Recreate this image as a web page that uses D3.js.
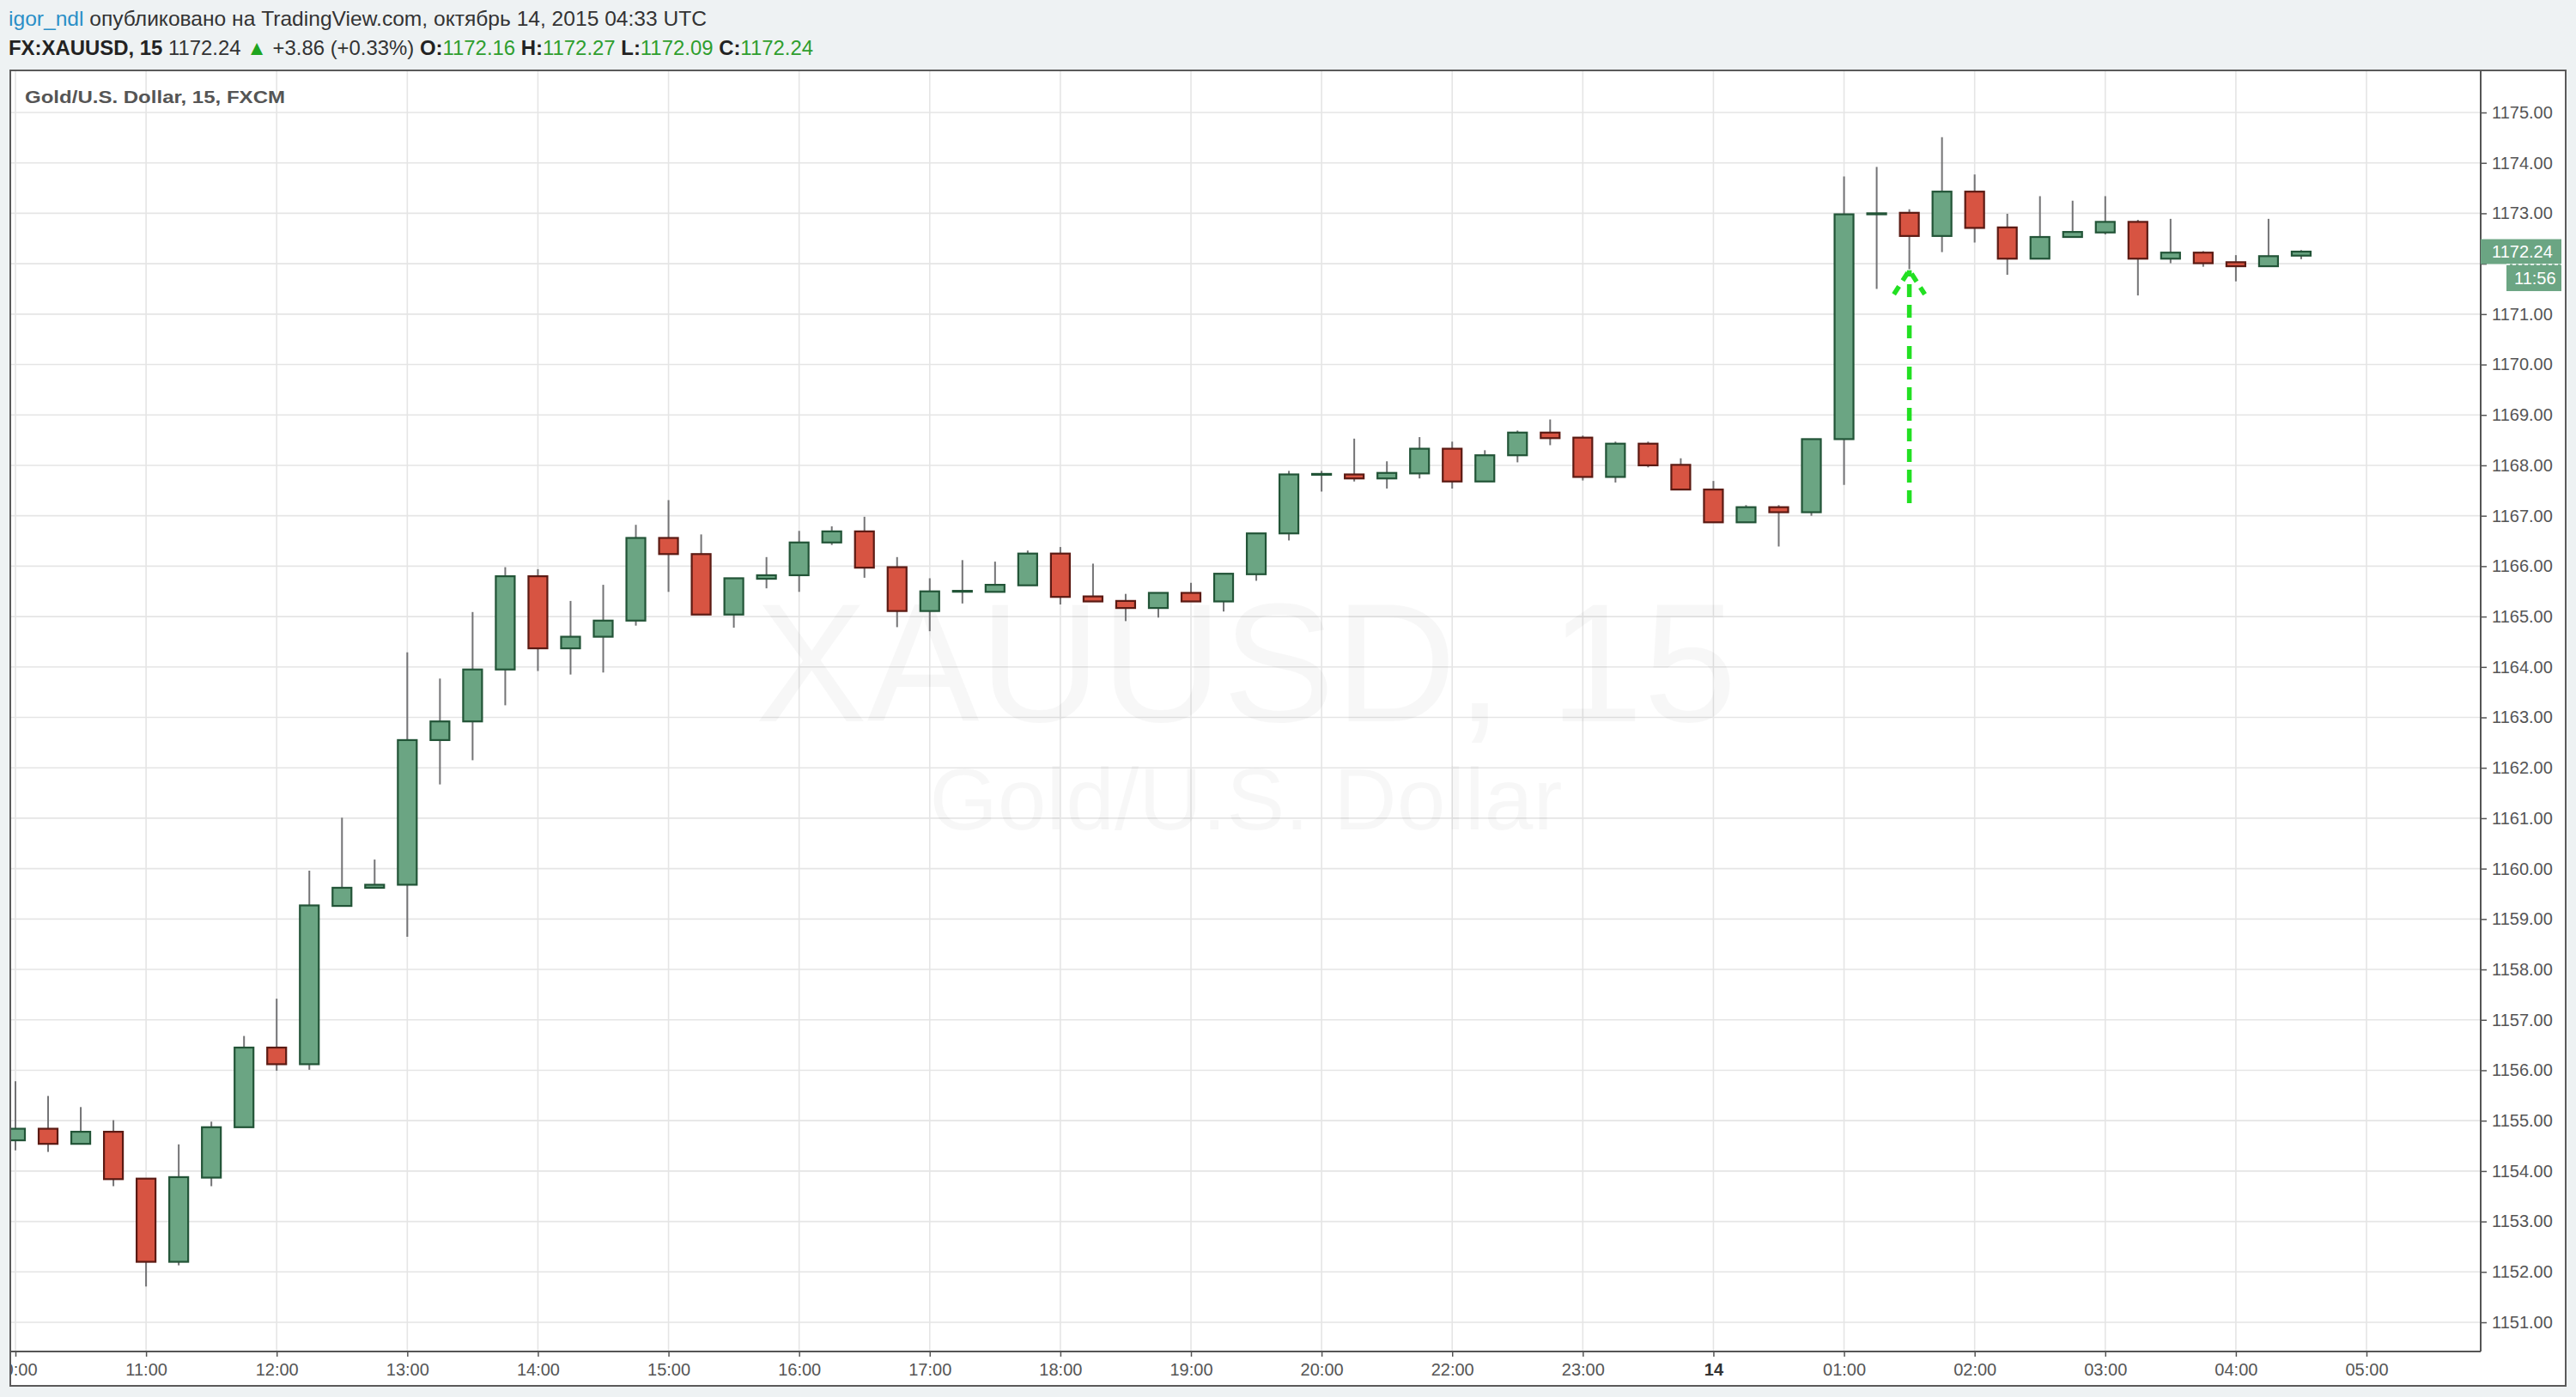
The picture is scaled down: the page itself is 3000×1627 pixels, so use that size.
<!DOCTYPE html>
<html><head><meta charset="utf-8">
<script src="https://cdn.jsdelivr.net/npm/d3@7/dist/d3.min.js"></script>
<style>
html,body{margin:0;padding:0;background:#eef2f3;}
svg{display:block;}
text{font-family:"Liberation Sans",Arial,sans-serif;}
</style></head><body>
<svg id="chart" width="3000" height="1627"></svg>
<script>
// ---------- DATA ----------
const timeSlots = [
 "10:00","10:15","10:30","10:45","11:00","11:15","11:30","11:45",
 "12:00","12:15","12:30","12:45","13:00","13:15","13:30","13:45",
 "14:00","14:15","14:30","14:45","15:00","15:15","15:30","15:45",
 "16:00","16:15","16:30","16:45","17:00","17:15","17:30","17:45",
 "18:00","18:15","18:30","18:45","19:00","19:15","19:30","19:45",
 "20:00","20:15","20:30","20:45","22:00","22:15","22:30","22:45",
 "23:00","23:15","23:30","23:45","00:00","00:15","00:30","00:45",
 "01:00","01:15","01:30","01:45","02:00","02:15","02:30","02:45",
 "03:00","03:15","03:30","03:45","04:00","04:15","04:30","04:45","05:00"];
const openV = [
 1154.61,1154.84,1154.54,1154.78,1153.85,1152.20,1153.87,1154.87,
 1156.45,1156.12,1159.26,1159.62,1159.68,1162.55,1162.92,1163.95,
 1165.80,1164.37,1164.60,1164.92,1166.56,1166.24,1165.04,1165.75,
 1165.82,1166.47,1166.69,1165.98,1165.11,1165.50,1165.49,1165.62,
 1166.25,1165.40,1165.31,1165.17,1165.47,1165.30,1165.84,1166.65,
 1167.82,1167.82,1167.74,1167.84,1168.33,1167.68,1168.20,1168.65,
 1168.55,1167.77,1168.43,1168.01,1167.52,1166.87,1167.17,1167.07,
 1168.52,1172.98,1173.01,1172.55,1173.43,1172.72,1172.10,1172.53,
 1172.62,1172.83,1172.10,1172.22,1172.03,1171.95,1172.16];
const highV = [
 1155.78,1155.49,1155.27,1155.01,1153.85,1154.53,1154.98,1156.68,
 1157.42,1159.96,1161.01,1160.18,1164.29,1163.77,1165.09,1165.98,
 1165.94,1165.31,1165.63,1166.82,1167.31,1166.63,1165.76,1166.18,
 1166.70,1166.79,1166.98,1166.18,1165.76,1166.12,1166.09,1166.31,
 1166.38,1166.05,1165.45,1165.47,1165.67,1165.85,1166.65,1167.89,
 1167.89,1168.53,1168.08,1168.56,1168.47,1168.30,1168.69,1168.91,
 1168.59,1168.47,1168.47,1168.14,1167.69,1167.21,1167.21,1168.52,
 1173.73,1173.92,1173.08,1174.51,1173.77,1172.99,1173.34,1173.25,
 1173.34,1172.87,1172.89,1172.25,1172.17,1172.89,1172.27];
const lowV = [
 1154.41,1154.38,1154.54,1153.70,1151.71,1152.13,1153.70,1154.87,
 1155.99,1156.01,1159.26,1159.62,1158.65,1161.67,1162.15,1163.24,
 1163.92,1163.85,1163.89,1164.82,1165.49,1165.04,1164.78,1165.56,
 1165.49,1166.42,1165.77,1164.79,1164.71,1165.26,1165.49,1165.62,
 1165.24,1165.30,1164.91,1164.98,1165.30,1165.10,1165.71,1166.51,
 1167.48,1167.68,1167.54,1167.74,1167.54,1167.68,1168.06,1168.40,
 1167.70,1167.66,1167.96,1167.52,1166.87,1166.87,1166.39,1167.00,
 1167.61,1171.50,1171.89,1172.23,1172.42,1171.78,1172.10,1172.53,
 1172.58,1171.37,1172.01,1171.94,1171.65,1171.95,1172.09];
const closeV = [
 1154.84,1154.54,1154.78,1153.84,1152.20,1153.88,1154.87,1156.45,
 1156.12,1159.27,1159.62,1159.68,1162.55,1162.92,1163.95,1165.80,
 1164.37,1164.60,1164.92,1166.56,1166.24,1165.04,1165.76,1165.82,
 1166.47,1166.69,1165.97,1165.11,1165.50,1165.51,1165.63,1166.25,
 1165.39,1165.30,1165.17,1165.47,1165.30,1165.85,1166.65,1167.82,
 1167.83,1167.74,1167.85,1168.33,1167.68,1168.20,1168.65,1168.54,
 1167.77,1168.43,1168.00,1167.52,1166.87,1167.17,1167.07,1168.52,
 1172.98,1173.00,1172.55,1173.43,1172.71,1172.10,1172.53,1172.63,
 1172.83,1172.10,1172.22,1172.01,1171.95,1172.15,1172.24];
const timeTicks = ["10:00","11:00","12:00","13:00","14:00","15:00","16:00","17:00","18:00",
 "19:00","20:00","22:00","23:00","00:00","01:00","02:00","03:00","04:00","05:00"];
const dayTick = "00:00", dayLabel = "14";
const priceTicks = [1151,1152,1153,1154,1155,1156,1157,1158,1159,1160,1161,1162,1163,
 1164,1165,1166,1167,1168,1169,1170,1171,1172,1173,1174,1175];
const lastPrice = 1172.24, countdown = "11:56";
const arrowSlot = "01:30", arrowFrom = 1167.25, arrowTo = 1171.87;

// ---------- CHART ----------
const svg = d3.select("#chart");
const W = 3000, H = 1627;
const F = {l:12, t:82, r:2988, b:1614};
const P = {l:13, t:83, r:2889, b:1574};
const UP = "#6ba583", DN = "#d75442", UPB = "#225437", DNB = "#5b1a13", WICK = "#737375";
const txt = "#555";

svg.append("rect").attr("width", W).attr("height", H).attr("fill", "#eef2f3");
svg.append("rect").attr("x", F.l).attr("y", F.t).attr("width", F.r - F.l).attr("height", F.b - F.t)
  .attr("fill", "#fff");

const defs = svg.append("defs");
defs.append("clipPath").attr("id", "plotClip").append("rect")
  .attr("x", P.l).attr("y", P.t).attr("width", P.r - P.l).attr("height", P.b - P.t);
defs.append("clipPath").attr("id", "frameClip").append("rect")
  .attr("x", F.l + 1).attr("y", F.t).attr("width", F.r - F.l).attr("height", F.b - F.t);

const x = d3.scalePoint().domain(timeSlots).range([18, 2756]);
const y = d3.scaleLinear().domain([1151, 1175]).range([1540, 131]);

const plot = svg.append("g").attr("clip-path", "url(#plotClip)");

// grid
plot.append("g").selectAll("line").data(priceTicks).join("line")
  .attr("x1", P.l).attr("x2", P.r).attr("y1", d => y(d)).attr("y2", d => y(d))
  .attr("stroke", "#e5e5e5").attr("stroke-width", 1.6);
plot.append("g").selectAll("line").data(timeTicks).join("line")
  .attr("x1", d => x(d)).attr("x2", d => x(d)).attr("y1", P.t).attr("y2", P.b)
  .attr("stroke", "#e5e5e5").attr("stroke-width", 1.6);

// watermark
const cx = (P.l + P.r) / 2;
plot.append("text").attr("x", cx).attr("y", 840).attr("text-anchor", "middle")
  .attr("font-size", 196).attr("fill", "#000").attr("fill-opacity", 0.03).text("XAUUSD, 15");
plot.append("text").attr("x", cx).attr("y", 966).attr("text-anchor", "middle")
  .attr("font-size", 102).attr("fill", "#000").attr("fill-opacity", 0.03).text("Gold/U.S. Dollar");

// candles
const candles = openV.map((o, i) => ({t: timeSlots[i], o, h: highV[i], l: lowV[i], c: closeV[i]}));
const bw = 24;
const cg = plot.append("g");
cg.selectAll("line.wick").data(candles).join("line").attr("class", "wick")
  .attr("x1", d => x(d.t)).attr("x2", d => x(d.t))
  .attr("y1", d => y(d.h)).attr("y2", d => y(d.l))
  .attr("stroke", WICK).attr("stroke-width", 2);
cg.selectAll("rect.body").data(candles).join("rect").attr("class", "body")
  .attr("x", d => x(d.t) - bw / 2 + 1).attr("width", bw - 2)
  .attr("y", d => y(Math.max(d.o, d.c)))
  .attr("height", d => Math.max(1, Math.abs(y(d.o) - y(d.c))))
  .attr("fill", d => d.c >= d.o ? UP : DN)
  .attr("stroke", d => d.c >= d.o ? UPB : DNB).attr("stroke-width", 2.2);

// arrow annotation
const ax = x(arrowSlot);
const ag = plot.append("g").attr("stroke", "#22e022").attr("stroke-width", 5.5).attr("fill", "none");
ag.append("line").attr("x1", ax).attr("x2", ax).attr("y1", y(arrowFrom)).attr("y2", y(arrowTo))
  .attr("stroke-dasharray", "15,9");
ag.append("path")
  .attr("d", `M${ax - 18},${y(arrowTo) + 28} L${ax},${y(arrowTo)} L${ax + 18},${y(arrowTo) + 28}`)
  .attr("stroke-dasharray", "11,8");

// right axis (label under the last-price box is hidden, as in the reference)
const yAxis = svg.append("g").attr("transform", `translate(${P.r},0)`)
  .call(d3.axisRight(y).tickValues(priceTicks).tickFormat(d3.format(".2f")).tickSize(7).tickPadding(6));
yAxis.select(".domain").remove();
yAxis.selectAll(".tick line").attr("stroke", "#555").attr("stroke-width", 1.5);
yAxis.selectAll(".tick text").attr("font-size", 20).attr("fill", txt)
  .style("font-family", '"Liberation Sans",Arial,sans-serif');
yAxis.selectAll(".tick").filter(d => Math.abs(y(d) - y(lastPrice)) < 30).select("text").remove();

// bottom axis
const xAxis = svg.append("g").attr("clip-path", "url(#frameClip)").append("g")
  .attr("transform", `translate(0,${P.b})`)
  .call(d3.axisBottom(x).tickValues(timeTicks).tickFormat(d => d === dayTick ? dayLabel : d)
    .tickSize(6).tickPadding(8));
xAxis.select(".domain").remove();
xAxis.selectAll(".tick line").attr("stroke", "#555").attr("stroke-width", 1.5);
xAxis.selectAll(".tick text").attr("font-size", 20).attr("fill", d => d === dayTick ? "#333" : txt)
  .attr("font-weight", d => d === dayTick ? "bold" : null)
  .style("font-family", '"Liberation Sans",Arial,sans-serif');

// plot borders
svg.append("line").attr("x1", P.r).attr("x2", P.r).attr("y1", F.t).attr("y2", P.b)
  .attr("stroke", "#555").attr("stroke-width", 2);
svg.append("line").attr("x1", F.l).attr("x2", P.r).attr("y1", P.b).attr("y2", P.b)
  .attr("stroke", "#555").attr("stroke-width", 2);
svg.append("rect").attr("x", F.l).attr("y", F.t).attr("width", F.r - F.l).attr("height", F.b - F.t)
  .attr("fill", "none").attr("stroke", "#5a5a5a").attr("stroke-width", 2);

// last price label
const ly = y(lastPrice);
svg.append("rect").attr("x", P.r).attr("y", ly - 14.5).attr("width", 94).attr("height", 29).attr("fill", UP);
svg.append("text").attr("x", P.r + 13).attr("y", ly + 7).attr("font-size", 20).attr("fill", "#fff").text(lastPrice.toFixed(2));
svg.append("rect").attr("x", P.r + 30).attr("y", ly + 15).attr("width", 64).attr("height", 31).attr("fill", UP);
svg.append("text").attr("x", P.r + 39).attr("y", ly + 38).attr("font-size", 20).attr("fill", "#fff").text(countdown);
svg.append("line").attr("x1", P.r + 30).attr("x2", P.r + 94).attr("y1", ly + 15).attr("y2", ly + 15)
  .attr("stroke", "#fff").attr("stroke-width", 1.5).attr("stroke-dasharray", "4,3");

// chart legend title
svg.append("text").attr("x", 29).attr("y", 120).attr("font-size", 21).attr("font-weight", "bold")
  .attr("fill", txt).attr("textLength", 303).attr("lengthAdjust", "spacingAndGlyphs")
  .text("Gold/U.S. Dollar, 15, FXCM");

// header
const h1 = svg.append("text").attr("x", 10).attr("y", 30).attr("font-size", 24)
  .attr("textLength", 813).attr("lengthAdjust", "spacingAndGlyphs").style("white-space", "pre");
h1.append("tspan").attr("fill", "#2b8fc7").text("igor_ndl");
h1.append("tspan").attr("fill", "#333").text(" опубликовано на TradingView.com, октябрь 14, 2015 04:33 UTC");

const G = "#2e9e2e";
const h2 = svg.append("text").attr("x", 10).attr("y", 64).attr("font-size", 24)
  .attr("textLength", 937).attr("lengthAdjust", "spacingAndGlyphs").style("white-space", "pre");
const parts = [
  ["FX:XAUUSD, 15", "#222", "bold"], [" 1172.24 ", "#333", null], ["▲", "#1fa51f", null],
  [" +3.86 (+0.33%) ", "#333", null], ["O:", "#222", "bold"], ["1172.16", G, null],
  [" H:", "#222", "bold"], ["1172.27", G, null], [" L:", "#222", "bold"], ["1172.09", G, null],
  [" C:", "#222", "bold"], ["1172.24", G, null]];
parts.forEach(([t, c, w]) => h2.append("tspan").attr("fill", c).attr("font-weight", w).text(t));
</script>
</body></html>
